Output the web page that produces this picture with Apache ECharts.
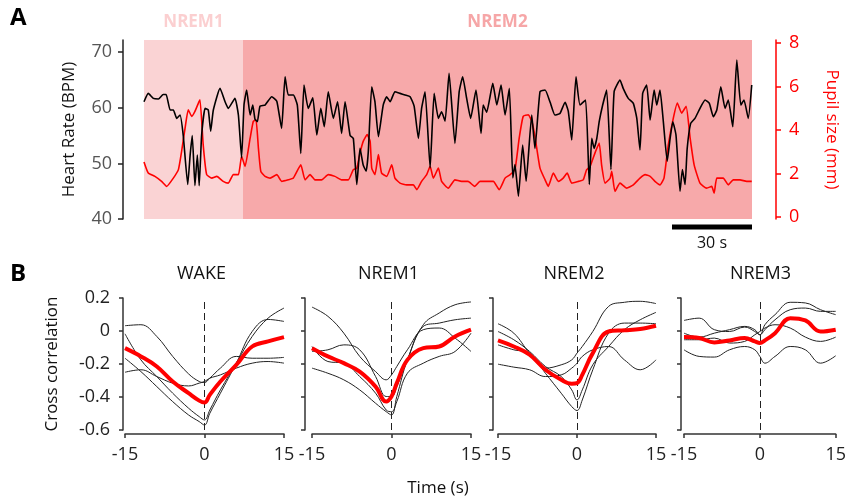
<!DOCTYPE html>
<html>
<head>
<meta charset="utf-8">
<script src="https://cdn.jsdelivr.net/npm/echarts@6/dist/echarts.min.js"></script>
<style>html,body{margin:0;padding:0;background:#fff}#main{width:849px;height:499px}</style>
</head>
<body>
<div id="main"></div>
<script>
// panel A: heart rate (black) and pupil size (red), time in seconds
var hrTime = [0,1.6,3.5,5.4,7.2,8.3,9.8,11.0,12.3,13.5,14.7,16.4,17.3,18.1,19.1,20.0,20.7,21.6,22.9,24.1,25.0,26.0,28.5,30.4,31.6,34.1,35.4,36.6,37.5,38.5,39.8,40.8,41.6,42.5,43.5,45.4,47.9,49.8,51.6,52.9,54.1,56.0,57.5,58.8,60.0,61.6,63.3,64.8,66.3,67.6,69.1,71.0,72.6,74.1,75.4,77.3,78.5,79.8,81.0,82.2,83.3,84.1,85.4,86.6,87.9,89.7,91.0,92.3,94.1,96.0,97.9,99.8,101.3,102.9,104.1,105.4,107.3,108.8,110.4,111.6,112.9,114.4,116.6,118.2,119.5,121.0,122.5,124.5,126.4,127.2,128.5,130.8,132.3,133.9,135.4,137.0,138.3,139.1,140.4,142.0,143.3,145.4,146.6,148.5,150.4,152.3,154.1,156.0,157.9,159.1,160.4,162.0,163.5,165.6,167.0,167.9,168.8,169.8,170.7,172.0,173.5,175.1,176.3,178.5,179.7,181.6,183.5,184.8,186.0,187.0,188.5,189.8,191.3,192.3,193.5,194.7,196.2,197.3,198.3,199.5,201.0,201.9,202.9,203.7,205.0,206.6,208.5,210.4,212.0,213.5,214.8,216.3,217.9,219.1,220.8,222.3,223.8,225.0,226.6,227.9];
var hrBpm = [61.1,62.6,61.7,61.6,62.4,62.4,59.6,59.6,58.1,58.7,55.1,46.2,51.5,55,46,51.5,46,55,59.9,59.6,55.8,59.6,63.5,61.1,59.9,61.7,58.7,51,60.5,63.2,58.7,60.5,58,57.5,60.3,60.5,62,61.2,56.3,65.6,62.3,62.3,60.5,51.8,64.1,59.9,61.8,55.1,59.9,56.6,62.9,58.1,61.1,55.4,61.1,55,54.5,46.2,52.7,49.7,48.6,52,63.8,61.1,54.8,60.5,62,61.1,62.9,62.6,62.3,62,60.3,54.5,59.9,62.9,49.2,62.6,58.1,59.3,57.6,66.2,53.6,62.9,65.6,61.7,58.1,63.2,55.4,60.5,59.2,64.4,60.5,64.1,58.7,63.5,47.4,49.8,44.1,53.3,46.8,58.7,52.7,62.9,63.2,61,58.7,59,61,59.4,54.2,65.6,60.5,61.4,46.2,54.5,52.7,54.5,57.5,60.5,63.2,48.9,62.9,65,63.5,61.7,60.8,58.1,52.4,62.6,64.1,57.8,63.2,60.5,63.2,57.8,50.4,54.5,57.5,55.1,45,48.9,46.2,52.7,57.2,58.1,59.9,61.4,60.8,58.4,59.6,63.8,59.9,61.4,56.6,68.6,60.5,61.4,58.1,64.1];
var pupilTime = [0,1.6,4.1,6.6,8.5,11.0,12.9,14.1,15.4,16.6,17.9,19.1,20.4,21.0,22.2,23.5,25.4,27.3,29.7,31.6,33.5,35.4,36.6,37.9,39.8,41.0,42.0,42.9,43.8,45.4,47.3,49.8,51.6,54.1,56.0,58.8,60.4,62.3,64.1,66.6,69.1,71.6,74.1,76.6,78.5,79.8,81.0,82.2,83.7,84.8,85.4,86.6,87.9,89.1,91.0,92.9,94.1,96.0,98.5,101.0,102.3,104.1,106.0,107.3,108.5,110.4,111.6,114.1,116.6,119.1,121.5,124.0,126.0,128.5,131.0,133.2,135.4,137.3,139.1,140.7,142.2,144.1,145.4,146.6,148.5,150.4,151.6,153.5,155.4,157.2,158.7,160.4,162.9,164.7,166.0,167.3,169.1,170.7,171.6,172.9,174.8,175.4,176.6,178.5,181.0,183.5,186.0,187.9,189.8,191.6,193.5,195.0,196.6,198.5,200.0,201.6,203.3,204.8,206.3,208.5,211.0,212.9,213.8,214.8,217.2,219.1,221.0,223.5,226.0,227.9];
var pupilMm = [2.53,2.02,1.87,1.64,1.41,1.79,2.18,3.02,4.09,4.93,4.63,4.86,5.24,5.39,3.32,1.95,1.79,1.87,1.64,1.56,1.95,1.95,2.79,2.33,3.63,4.40,4.47,3.17,2.10,1.87,1.79,1.95,1.64,1.71,1.79,2.40,1.71,1.95,1.71,1.71,1.95,1.87,1.71,1.71,2.18,2.25,2.94,3.48,3.79,3.48,2.25,1.95,2.87,2.02,1.87,2.40,1.79,1.56,1.48,1.48,1.26,1.64,1.95,2.33,1.79,2.25,1.64,1.33,1.71,1.64,1.64,1.41,1.64,1.64,1.64,1.26,1.79,1.95,2.18,3.63,4.63,4.70,4.40,3.71,2.25,1.71,1.41,2.02,1.64,1.79,2.02,1.56,1.64,1.71,2.18,2.33,2.94,3.40,2.40,1.56,1.79,2.10,1.18,1.56,1.33,1.48,1.79,1.95,1.87,1.64,1.48,1.79,3.32,4.55,5.24,4.78,5.09,3.63,2.40,1.56,1.33,1.41,1.10,1.79,1.79,1.48,1.71,1.71,1.64,1.64];
var stageNames = ['NREM1', 'NREM2'];
var stageBounds = [0, 37.1, 228];
var scaleBarSec = 30;

// panel B: cross correlation vs lag (s)
var lags = [-15,-12,-9,-6,-3,-1,0,1,3,6,9,12,15];
var panelTitles = ['WAKE', 'NREM1', 'NREM2', 'NREM3'];
var wakeMean = [-0.104,-0.154,-0.215,-0.306,-0.377,-0.422,-0.434,-0.387,-0.306,-0.205,-0.094,-0.063,-0.037];
var wakeSubj = [
  [0.032,0.038,-0.033,-0.154,-0.26,-0.306,-0.312,-0.286,-0.225,-0.154,-0.165,-0.165,-0.16],
  [-0.017,-0.175,-0.276,-0.377,-0.468,-0.519,-0.539,-0.479,-0.357,-0.195,-0.033,0.078,0.139],
  [-0.165,-0.246,-0.337,-0.428,-0.509,-0.549,-0.57,-0.499,-0.377,-0.195,-0.003,0.07,0.058],
  [-0.25,-0.235,-0.276,-0.316,-0.333,-0.316,-0.306,-0.286,-0.266,-0.225,-0.195,-0.185,-0.195]
];
var nrem1Mean = [-0.104,-0.154,-0.195,-0.246,-0.337,-0.428,-0.397,-0.316,-0.175,-0.104,-0.094,-0.033,0.008];
var nrem1Subj = [
  [0.145,0.089,-0.013,-0.154,-0.246,-0.296,-0.266,-0.215,-0.114,0.008,0.018,-0.043,-0.124],
  [-0.225,-0.256,-0.296,-0.357,-0.438,-0.489,-0.509,-0.397,-0.175,0.038,0.109,0.159,0.176],
  [-0.124,-0.114,-0.084,-0.114,-0.276,-0.397,-0.397,-0.337,-0.175,0.028,0.048,0.068,0.078],
  [-0.094,-0.185,-0.195,-0.276,-0.377,-0.479,-0.489,-0.428,-0.256,-0.195,-0.154,-0.124,-0.013]
];
var nrem2Mean = [-0.057,-0.094,-0.144,-0.235,-0.296,-0.32,-0.316,-0.266,-0.134,-0.003,0.004,0.012,0.032];
var nrem2Subj = [
  [0.044,-0.013,-0.134,-0.225,-0.205,-0.175,-0.134,-0.094,-0.003,0.149,0.174,0.18,0.166],
  [-0.003,-0.053,-0.124,-0.215,-0.276,-0.357,-0.418,-0.357,-0.205,-0.094,0.008,0.068,0.113],
  [-0.084,-0.114,-0.134,-0.256,-0.377,-0.458,-0.482,-0.418,-0.235,-0.013,0.048,0.048,0.044],
  [-0.201,-0.219,-0.235,-0.276,-0.266,-0.225,-0.195,-0.154,-0.114,-0.094,-0.175,-0.235,-0.175]
];
var nrem3Mean = [-0.037,-0.043,-0.069,-0.057,-0.043,-0.063,-0.073,-0.057,-0.013,0.078,0.064,-0.003,0.008];
var nrem3Subj = [
  [0.064,0.078,0.008,-0.003,0.024,-0.003,-0.023,0.038,0.099,0.174,0.17,0.129,0.099],
  [-0.013,-0.037,-0.013,0.008,0.028,0.008,-0.023,0.008,0.068,0.129,0.139,0.119,0.119],
  [-0.053,-0.053,-0.043,-0.073,-0.063,-0.023,-0.003,0.018,0.038,0.018,-0.037,-0.063,-0.037],
  [-0.114,-0.154,-0.158,-0.114,-0.094,-0.114,-0.154,-0.195,-0.154,-0.094,-0.114,-0.195,-0.15]
];

var FONT = '"Open Sans", sans-serif';

function zip(a, b) {
  return a.map(function (v, i) { return [v, b[i]]; });
}

var myChart = echarts.init(document.getElementById('main'));

var grids = [{left: 144, top: 40, width: 608, height: 179}];
var xAxes = [{gridIndex: 0, type: 'value', min: 0, max: stageBounds[2], show: false}];
var yAxes = [
  {
    gridIndex: 0, type: 'value', position: 'left', offset: 21, min: 40, max: 72.2,
    axisLine: {show: true, onZero: false, lineStyle: {color: '#222', width: 1.5}},
    axisTick: {show: true, length: 5, lineStyle: {color: '#222', width: 1.5}, customValues: [40, 50, 60, 70]},
    axisLabel: {fontSize: 18, color: '#555', margin: 11, customValues: [40, 50, 60, 70]},
    splitLine: {show: false},
    name: 'Heart Rate (BPM)', nameLocation: 'middle', nameGap: 45,
    nameTextStyle: {fontSize: 17, color: '#111'}
  },
  {
    gridIndex: 0, type: 'value', position: 'right', offset: 24, min: -0.09, max: 8.14,
    axisLine: {show: true, onZero: false, lineStyle: {color: '#f00', width: 1.5}},
    axisTick: {show: true, length: 5, lineStyle: {color: '#f00', width: 1.5}, customValues: [0, 2, 4, 6, 8]},
    axisLabel: {fontSize: 18, color: '#f00', margin: 13, customValues: [0, 2, 4, 6, 8]},
    splitLine: {show: false},
    name: 'Pupil size (mm)', nameLocation: 'middle', nameGap: 47, nameRotate: -90,
    nameTextStyle: {fontSize: 17, color: '#f00'}
  }
];

var barMid = stageBounds[2] - scaleBarSec / 2;
var series = [
  {
    type: 'line', xAxisIndex: 0, yAxisIndex: 1, data: zip(pupilTime, pupilMm),
    showSymbol: false, smooth: 0.15, lineStyle: {color: '#f00', width: 1.6}, z: 3,
    markArea: {
      silent: true,
      data: [
        [{name: stageNames[0], xAxis: stageBounds[0], itemStyle: {color: '#fad3d4'},
          label: {color: '#fbcfd0'}}, {xAxis: stageBounds[1]}],
        [{name: stageNames[1], xAxis: stageBounds[1], itemStyle: {color: '#f7a9aa'},
          label: {color: '#f6a6a7'}}, {xAxis: stageBounds[2]}]
      ],
      label: {show: true, position: 'top', distance: 9, fontSize: 17, fontWeight: 'bold'}
    }
  },
  {
    type: 'line', xAxisIndex: 0, yAxisIndex: 0, data: zip(hrTime, hrBpm),
    showSymbol: false, smooth: 0.15, lineStyle: {color: '#000', width: 1.6}, z: 4
  },
  {
    // 30 s scale bar under the trace
    type: 'line', xAxisIndex: 0, yAxisIndex: 0, clip: false, silent: true,
    symbol: 'circle', symbolSize: 0,
    data: [
      [stageBounds[2] - scaleBarSec, 38.56],
      {value: [barMid, 38.56], label: {show: true, position: 'bottom', distance: 8,
        formatter: scaleBarSec + ' s', fontSize: 16, color: '#111'}},
      [stageBounds[2], 38.56]
    ],
    lineStyle: {color: '#000', width: 5}
  }
];

var bLeft = [125, 312, 498, 684];
var bWidth = [159, 159, 158, 159];
var bYOffset = [2, 7, 5, 3];
var bMeans = [wakeMean, nrem1Mean, nrem2Mean, nrem3Mean];
var bSubj = [wakeSubj, nrem1Subj, nrem2Subj, nrem3Subj];
var graphics = [
  {type: 'text', left: 10, top: 6, style: {text: 'A', fill: '#000', font: 'bold 24px ' + FONT}},
  {type: 'text', left: 10, top: 262, style: {text: 'B', fill: '#000', font: 'bold 24px ' + FONT}},
  {type: 'text', x: 438, y: 488, style: {text: 'Time (s)', fill: '#111', font: '17px ' + FONT, align: 'center', verticalAlign: 'middle'}}
];

for (var i = 0; i < 4; i++) {
  var g = i + 1;
  grids.push({left: bLeft[i], top: 298, width: bWidth[i], height: 132});
  xAxes.push({
    gridIndex: g, type: 'value', min: -15, max: 15, interval: 15, offset: 4,
    axisLine: {show: true, onZero: false, lineStyle: {color: '#333', width: 1.5}},
    axisTick: {show: true, length: 4, lineStyle: {color: '#333', width: 1.5}},
    axisLabel: {fontSize: 18, color: '#222', margin: 12},
    splitLine: {show: false}
  });
  yAxes.push({
    gridIndex: g, type: 'value', min: -0.6, max: 0.2, interval: 0.2, offset: bYOffset[i],
    axisLine: {show: true, onZero: false, lineStyle: {color: '#333', width: 1.5}},
    axisTick: {show: true, length: 4, lineStyle: {color: '#333', width: 1.5}},
    axisLabel: {show: i === 0, fontSize: 18, color: '#222', margin: 13,
      formatter: function (v) { return Math.abs(v) < 1e-9 ? '0' : v.toFixed(1); }},
    splitLine: {show: false},
    name: i === 0 ? 'Cross correlation' : '', nameLocation: 'middle', nameGap: 62,
    nameTextStyle: {fontSize: 17, color: '#111'}
  });
  bSubj[i].forEach(function (vals) {
    series.push({
      type: 'line', xAxisIndex: g, yAxisIndex: g + 1, data: zip(lags, vals),
      smooth: 0.4, showSymbol: false, lineStyle: {color: '#222', width: 1}, z: 2
    });
  });
  series.push({
    type: 'line', xAxisIndex: g, yAxisIndex: g + 1, data: zip(lags, bMeans[i]),
    smooth: 0.4, showSymbol: false, lineStyle: {color: '#f00', width: 4}, z: 5,
    markLine: {
      silent: true, symbol: 'none', label: {show: false},
      lineStyle: {color: '#222', width: 1, type: [7, 4]},
      data: [{xAxis: 0}]
    }
  });
  graphics.push({type: 'text', x: bLeft[i] + bWidth[i] / 2 - 3, y: 274,
    style: {text: panelTitles[i], fill: '#111', font: '18px ' + FONT, align: 'center', verticalAlign: 'middle'}});
}

var option = {
  animation: false,
  textStyle: {fontFamily: FONT},
  grid: grids,
  xAxis: xAxes,
  yAxis: yAxes,
  series: series,
  graphic: graphics
};
myChart.setOption(option);
</script>
</body>
</html>
